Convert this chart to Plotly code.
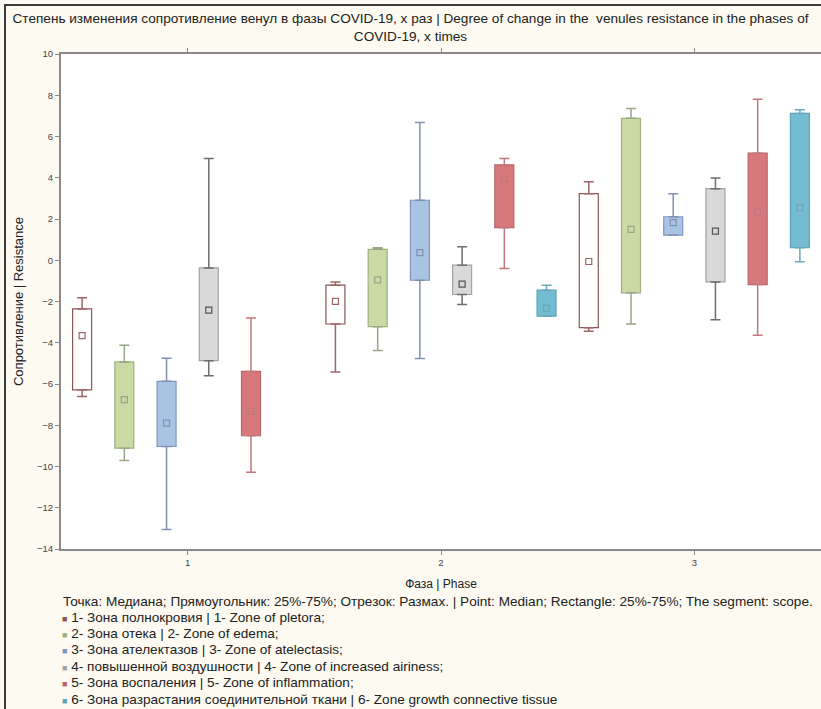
import plotly.graph_objects as go

# ---------------- data ----------------
phases = [1, 2, 3]
phase_labels = ["1", "2", "3"]

series_names = [
    "1- Зона полнокровия | 1- Zone of pletora;",
    "2- Зона отека | 2- Zone of edema;",
    "3- Зона ателектазов | 3- Zone of atelectasis;",
    "4- повышенной воздушности | 4- Zone of increased airiness;",
    "5- Зона воспаления | 5- Zone of inflammation;",
    "6- Зона разрастания соединительной ткани | 6- Zone growth connective tissue",
]
legend_header = ("Точка: Медиана; Прямоугольник: 25%-75%; Отрезок: Размах. | "
                 "Point: Median; Rectangle: 25%-75%; The segment: scope.")
chart_title = ("Степень изменения сопротивление венул в фазы COVID-19, х раз | "
               "Degree of change in the  venules resistance in the phases of<br>COVID-19, x times")
x_title = "Фаза | Phase"
y_title = "Сопротивление | Resistance"

# per series, values for phases 1, 2, 3 (None = no data)
range_min = [
    [-6.6, -5.42, -3.44],
    [-9.71, -4.37, -3.09],
    [-13.05, -4.76, 1.22],
    [-5.6, -2.15, -2.88],
    [-10.28, -0.4, -3.64],
    [None, -2.71, -0.07],
]
quart_25 = [
    [-6.28, -3.09, -3.27],
    [-9.11, -3.22, -1.58],
    [-9.03, -0.97, 1.22],
    [-4.87, -1.66, -1.05],
    [-8.51, 1.58, -1.18],
    [None, -2.71, 0.61],
]
medians = [
    [-3.65, -1.99, -0.06],
    [-6.76, -0.95, 1.5],
    [-7.9, 0.37, 1.82],
    [-2.42, -1.16, 1.41],
    [-7.33, 3.93, 2.34],
    [None, -2.33, 2.55],
]
quart_75 = [
    [-2.36, -1.21, 3.23],
    [-4.93, 0.53, 6.88],
    [-5.87, 2.91, 2.11],
    [-0.37, -0.24, 3.47],
    [-5.39, 4.62, 5.19],
    [None, -1.45, 7.12],
]
range_max = [
    [-1.82, -1.05, 3.81],
    [-4.12, 0.61, 7.36],
    [-4.75, 6.68, 3.23],
    [4.93, 0.66, 3.99],
    [-2.8, 4.93, 7.81],
    [None, -1.21, 7.3],
]

# ---------------- styles ----------------
fill_colors = ["#ffffff", "#cbdaa5", "#a9c3e3", "#d9d9d9", "#d7797c", "#73bcd1"]
line_colors = ["#8c5458", "#9fb07e", "#8196bf", "#a3a3a3", "#b9666a", "#5ea4ba"]
whisk_colors = ["#a0646a", "#97a684", "#8191b4", "#6e6e6e", "#c0787c", "#6aa9bb"]

W, H = 821, 709
ML, MR, MT, MB = 61, 0, 54, 160
PW, PH = W - ML - MR, H - MT - MB


def diff(a, b):
    return [None if (x is None or y is None) else round(x - y, 4) for x, y in zip(a, b)]


fig = go.Figure()
for i in range(len(series_names)):
    size = diff(quart_75[i], quart_25[i])
    up = diff(range_max[i], quart_75[i])
    down = diff(quart_25[i], range_min[i])
    zeros = [None if v is None else 0 for v in size]
    # box 25%-75% with upper whisker
    fig.add_trace(go.Bar(
        x=phases, y=size, base=quart_25[i], name=series_names[i],
        offsetgroup=str(i), showlegend=False,
        marker=dict(color=fill_colors[i], line=dict(color=line_colors[i], width=1.2)),
        error_y=dict(type="data", symmetric=False, array=up, arrayminus=zeros,
                     color=whisk_colors[i], thickness=1.5, width=5),
    ))
    # lower whisker
    fig.add_trace(go.Bar(
        x=phases, y=zeros, base=quart_25[i], name=series_names[i],
        offsetgroup=str(i), showlegend=False,
        marker=dict(color="rgba(0,0,0,0)", line=dict(width=0)),
        error_y=dict(type="data", symmetric=False, array=zeros, arrayminus=down,
                     color=whisk_colors[i], thickness=1.5, width=5),
    ))
    # median point
    fig.add_trace(go.Scatter(
        x=phases, y=medians[i], mode="markers", name=series_names[i],
        offsetgroup=str(i), showlegend=False,
        marker=dict(symbol="square", size=6, color=fill_colors[i],
                    line=dict(color=whisk_colors[i] if i != 3 else "#555555", width=1.2)),
    ))

FONT = "Liberation Sans, Arial, sans-serif"
TXT = 13.6

annotations = []


def px_to_paper_x(px):
    return (px - ML) / PW


def px_to_paper_y(py):
    return (H - MB - py) / PH


annotations.append(dict(
    text=legend_header, xref="paper", yref="paper",
    x=px_to_paper_x(61), y=px_to_paper_y(601), xanchor="left", yanchor="middle",
    showarrow=False, font=dict(family=FONT, size=TXT, color="#222222")))
for i, nm in enumerate(series_names):
    annotations.append(dict(
        text='<span style="color:%s;font-size:9px">■</span> %s' % (line_colors[i], nm),
        xref="paper", yref="paper",
        x=px_to_paper_x(60), y=px_to_paper_y(617 + i * 16.4), xanchor="left", yanchor="middle",
        showarrow=False, font=dict(family=FONT, size=TXT, color="#222222")))

shapes = [
    dict(type="line", xref="paper", yref="paper",
         x0=px_to_paper_x(5), x1=px_to_paper_x(5), y0=px_to_paper_y(4), y1=px_to_paper_y(H),
         line=dict(color="#3a3a3a", width=2)),
    dict(type="line", xref="paper", yref="paper",
         x0=px_to_paper_x(4), x1=px_to_paper_x(W), y0=px_to_paper_y(5), y1=px_to_paper_y(5),
         line=dict(color="#3a3a3a", width=2)),
]

axis_common = dict(
    showline=True, linecolor="#8a8a8a", linewidth=2, mirror="ticks",
    ticks="outside", ticklen=4, tickcolor="#8a8a8a", showgrid=False, zeroline=False,
    tickfont=dict(family=FONT, size=9.5, color="#444444"), automargin=False,
)

fig.update_layout(
    width=W, height=H,
    margin=dict(l=ML, r=MR, t=MT, b=MB),
    paper_bgcolor="#fcfaf1", plot_bgcolor="#ffffff",
    barmode="group", bargap=0, bargroupgap=0.55,
    scattermode="group", scattergap=0,
    title=dict(text=chart_title, x=0.5, xref="container", xanchor="center",
               y=1 - 23 / H, yref="container", yanchor="top",
               font=dict(family=FONT, size=TXT, color="#222222")),
    xaxis=dict(range=[0.5, 3.5], tickvals=phases, ticktext=phase_labels,
               title=dict(text=x_title, standoff=12, font=dict(family=FONT, size=12, color="#222222")),
               **axis_common),
    yaxis=dict(range=[-14, 10], dtick=2, tick0=0,
               title=dict(text=y_title, standoff=10, font=dict(family=FONT, size=13, color="#222222")),
               **axis_common),
    annotations=annotations, shapes=shapes,
    showlegend=False,
)

fig.write_html(
    "out.html",
    config={"displayModeBar": False},
    post_script="document.body.style.margin='0';document.body.style.padding='0';"
                "document.body.style.overflow='hidden';",
)
